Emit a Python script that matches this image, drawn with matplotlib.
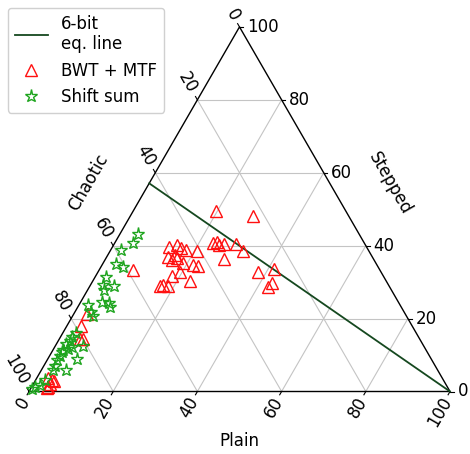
import numpy as np
import matplotlib
matplotlib.use('Agg')
import matplotlib.pyplot as plt

# ternary data: Plain (bottom), Stepped (right); Chaotic = 100 - Plain - Stepped
bwt_plain = [19.7, 29.1, 23.3, 24.2, 25.0, 26.1, 29.0, 31.5, 28.1, 38.0, 41.4,
             42.8, 42.5, 13.5, 15.1, 16.4, 17.9, 20.6, 14.6, 16.0, 16.0, 16.9,
             19.0, 21.7, 22.9, 19.5, 18.2, 23.0, 17.2, 18.5, 16.6, 8.0, 3.2,
             3.4, 4.9, 5.6, 2.7, 3.9, 4.5, 3.9, 3.8, 4.0]
bwt_stepped = [49.5, 48.1, 40.7, 41.0, 40.2, 40.5, 40.5, 38.5, 36.3, 32.8, 33.6,
               29.8, 28.7, 39.6, 40.2, 39.4, 38.8, 38.5, 36.9, 37.4, 36.1, 36.6,
               35.2, 34.7, 34.4, 32.8, 31.7, 30.3, 29.2, 28.9, 28.9, 33.3, 21.3,
               18.0, 14.4, 14.4, 3.7, 3.2, 2.9, 1.2, 1.0, 2.1]

shift_plain = [4.3, 4.3, 2.5, 3.2, 5.2, 2.6, 3.0, 5.7, 3.9, 2.1, 5.0, 6.9, 7.6,
               3.8, 4.8, 3.2, 2.7, 2.3, 3.5, 2.4, 4.1, 6.6, 6.9, 2.4, 2.7, 5.9,
               2.8, 1.7, 0.8, 0.35, 2.5, 2.4, 2.2, 2.8]
shift_stepped = [43.2, 40.7, 38.8, 35.0, 34.1, 31.4, 29.2, 28.9, 27.8, 23.7, 24.5,
                 24.3, 23.2, 21.8, 20.7, 16.0, 14.9, 13.0, 11.7, 11.4, 12.2, 12.5,
                 8.9, 8.6, 7.0, 5.9, 5.9, 1.8, 1.2, 0.7, 9.7, 10.8, 3.2, 13.9]

eq_plain = [0, 100]
eq_stepped = [57.1, 0]

ticks = [0, 20, 40, 60, 80, 100]
H = np.sqrt(3) / 2


def tern(p, s):
    p = np.asarray(p, dtype=float)
    s = np.asarray(s, dtype=float)
    return p + s / 2, s * H


fig = plt.figure(figsize=(4.7, 4.54), dpi=100)
ax = fig.add_axes([0, 0, 1, 1])
ax.set_xlim(-29 / 4.21, 441 / 4.21)
ax.set_ylim((391.5 - 454) / 4.21, 391.5 / 4.21)
ax.axis('off')

# grid
grid_kw = dict(color='#c4c4c4', lw=0.8, zorder=1)
for v in ticks[1:-1]:
    ax.plot(*tern([0, 100 - v], [v, v]), **grid_kw)        # constant stepped
    ax.plot(*tern([v, v], [0, 100 - v]), **grid_kw)        # constant plain
    ax.plot(*tern([0, 100 - v], [100 - v, 0]), **grid_kw)  # constant chaotic

# boundary
ax.plot(*tern([0, 100, 0, 0], [0, 0, 100, 0]), color='black', lw=1.0, zorder=2)

# ticks + labels
tl = 0.9
for v in ticks:
    # bottom (Plain)
    x, y = tern(v, 0)
    d = np.array([-0.5, -H])
    ax.plot([x, x + tl * d[0]], [y, y + tl * d[1]], color='black', lw=0.8)
    ax.text(x + 1.9 * d[0] + 0.3, y + 1.9 * d[1], str(v), rotation=60,
            rotation_mode='anchor', ha='right', va='center', fontsize=12)
    # right (Stepped)
    x, y = tern(100 - v, v)
    ax.plot([x, x + tl], [y, y], color='black', lw=0.8)
    ax.text(x + 1.8, y, str(v), ha='left', va='center', fontsize=12)
    # left (Chaotic)
    x, y = tern(0, 100 - v)
    d = np.array([-0.5, H])
    ax.plot([x, x + tl * d[0]], [y, y + tl * d[1]], color='black', lw=0.8)
    ax.text(x + 2.1 * d[0], y + 2.1 * d[1], str(v), rotation=-60,
            rotation_mode='anchor', ha='right', va='center', fontsize=12)

# axis titles
ax.text(50, -11.8, 'Plain', ha='center', va='center', fontsize=12)
ax.text((88.5 - 29) / 4.21, (391.5 - 182) / 4.21, 'Chaotic', rotation=60,
        ha='center', va='center', fontsize=12)
ax.text((390 - 29) / 4.21, (391.5 - 183) / 4.21, 'Stepped', rotation=-60,
        ha='center', va='center', fontsize=12)

# data
ax.plot(*tern(eq_plain, eq_stepped), color='#15481f', lw=1.3, zorder=3,
        label='6-bit\neq. line')
ax.plot(*tern(bwt_plain, bwt_stepped), ls='none', marker='^', ms=8,
        mfc='none', mec='#ff1010', mew=1.0, zorder=4, label='BWT + MTF')
ax.plot(*tern(shift_plain, shift_stepped), ls='none', marker='*', ms=9.5,
        mfc='none', mec='#1fa51f', mew=1.0, zorder=5, label='Shift sum')

ax.legend(loc='upper left', bbox_to_anchor=(8 / 470, 1 - 8 / 454),
          borderaxespad=0, fontsize=12, framealpha=1, edgecolor='#d0d0d0')

fig.savefig('out.png', dpi=100)
